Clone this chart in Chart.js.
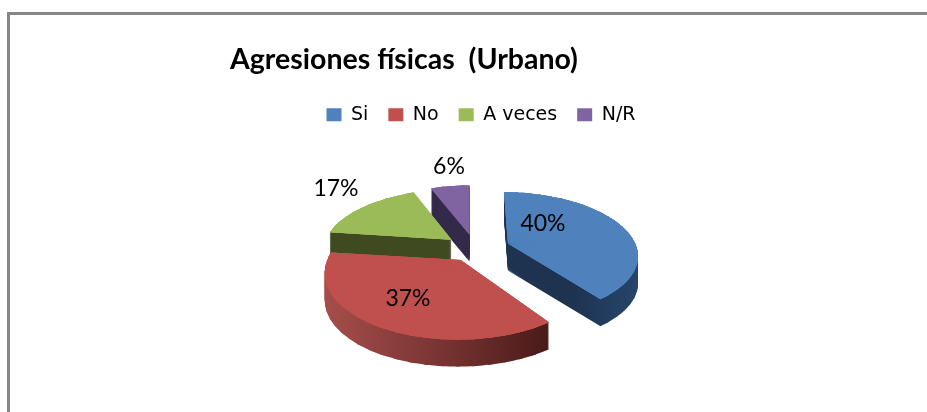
<!DOCTYPE html>
<html>
<head>
<meta charset="utf-8">
<script src="https://cdn.jsdelivr.net/npm/chart.js@4"></script>
<style>
html,body{margin:0;padding:0;background:#fff;overflow:hidden}
#frame{position:absolute;left:7px;top:12px;right:0;bottom:0;border-left:3px solid #868686;border-top:3px solid #868686}
#c{position:absolute;left:0;top:0}
</style>
</head>
<body>
<div id="frame"></div>
<canvas id="c" width="927" height="412"></canvas>
<script>
const categories = ['Si', 'No', 'A veces', 'N/R'];
const values = [40, 37, 17, 6];
const colors = ['#4F81BD', '#C0504D', '#9BBB59', '#8064A2'];
const explode = [0.27, 0.21, 0.234, 0.24];
const chartTitle = 'Agresiones físicas  (Urbano)';

// Side-wall colours (left to right) of each slice.
const sideColors = [
  ['#1d3350', '#1d3350', '#26456a'],
  ['#a54e4b', '#7a3533', '#4a1b19'],
  ['#3f4a21', '#3f4a21', '#3f4a21'],
  ['#332a4a', '#332a4a', '#332a4a']
];
const sideSpan = [[505, 637], [325, 547], [330, 452], [433, 472]];
// Camera: pie plane (u across, v towards viewer) to the page.
const view = { cx: 475, cy: 248.5, rx: 130, ry: 62, persp: 0.17, depth: 27 };
const labelSpots = [[543, 224], [408, 299], [336, 189], [449, 167]];
const drawOrder = [3, 2, 0, 1];
const wedgeStep = Math.PI / 30;
const wedgeOverlap = 0.04;
const topPasses = 3;

function project(u, v) {
  const w = 1 / (1 - view.persp * v);
  return [view.cx + view.rx * u * w, view.cy + view.ry * v * w];
}

// Affine map sending one thin wedge of the library's arc onto its
// perspective projection: apex and both rim points land exactly.
function wedgeTransform(arc, mid, s, e, half) {
  const off = arc.options.offset;
  const R = arc.outerRadius + off / 4; // the element pads its radius by offset/4 when it draws
  const ex = off / 100;
  const ox = arc.x + Math.cos(half) * off / 4, oy = arc.y + Math.sin(half) * off / 4;
  const hs = half - (e - s) / 2, he = half + (e - s) / 2;
  const bu = Math.cos(mid) * ex, bv = Math.sin(mid) * ex;
  const c0 = project(bu, bv);
  const c1 = project(bu + Math.cos(hs), bv + Math.sin(hs));
  const c2 = project(bu + Math.cos(he), bv + Math.sin(he));
  const e1x = R * Math.cos(hs), e1y = R * Math.sin(hs);
  const e2x = R * Math.cos(he), e2y = R * Math.sin(he);
  const det = e1x * e2y - e2x * e1y;
  const f1x = c1[0] - c0[0], f1y = c1[1] - c0[1], f2x = c2[0] - c0[0], f2y = c2[1] - c0[1];
  const a = (f1x * e2y - f2x * e1y) / det;
  const c = (f2x * e1x - f1x * e2x) / det;
  const b = (f1y * e2y - f2y * e1y) / det;
  const d = (f2y * e1x - f1y * e2x) / det;
  return { a, b, c, d, e: c0[0] - a * ox - c * oy, f: c0[1] - b * ox - d * oy };
}

function drawSlice(arc, target, dy) {
  const s0 = arc.startAngle, e0 = arc.endAngle, c0 = arc.circumference;
  const mid = (s0 + e0) / 2;
  const n = Math.max(1, Math.ceil((e0 - s0) / wedgeStep));
  for (let j = 0; j < n; j++) {
    const s = s0 + (e0 - s0) * j / n;
    const e = Math.min(e0, s0 + (e0 - s0) * (j + 1) / n + wedgeOverlap);
    const m = wedgeTransform(arc, mid, s, e, (s + e) / 2);
    target.setTransform(m.a, m.b, m.c, m.d, m.e, m.f + dy);
    arc.startAngle = s;
    arc.endAngle = e;
    arc.circumference = e - s;
    arc.draw(target);
  }
  arc.startAngle = s0; arc.endAngle = e0; arc.circumference = c0;
  target.setTransform(1, 0, 0, 1, 0, 0);
}

const pie3d = {
  id: 'pie3d',
  beforeDatasetDraw(chart) {
    const ctx = chart.ctx;
    const arcs = chart.getDatasetMeta(0).data;
    drawOrder.forEach(i => {
      const arc = arcs[i];
      const off = document.createElement('canvas');
      off.width = chart.width; off.height = chart.height;
      const o = off.getContext('2d');
      for (let d = view.depth; d >= 1; d--) drawSlice(arc, o, d);
      o.globalCompositeOperation = 'source-in';
      const g = o.createLinearGradient(sideSpan[i][0], 0, sideSpan[i][1], 0);
      sideColors[i].forEach((col, k) => g.addColorStop(k / (sideColors[i].length - 1), col));
      o.fillStyle = g;
      o.fillRect(0, 0, off.width, off.height);
      ctx.drawImage(off, 0, 0);
      ctx.save();
      for (let p = 0; p < topPasses; p++) drawSlice(arc, ctx, 0);
      ctx.restore();
    });
    return false;
  },
  afterDatasetsDraw(chart) {
    const ctx = chart.ctx;
    ctx.save();
    ctx.font = '23px Lato';
    ctx.fillStyle = '#000';
    ctx.textAlign = 'center';
    ctx.textBaseline = 'middle';
    values.forEach((v, i) => ctx.fillText(v + '%', labelSpots[i][0], labelSpots[i][1]));
    ctx.restore();
  }
};

new Chart(document.getElementById('c'), {
  type: 'pie',
  data: {
    labels: categories,
    datasets: [{
      data: values,
      backgroundColor: colors,
      borderWidth: 0,
      offset: explode.map(e => e * 100)
    }]
  },
  options: {
    responsive: false,
    animation: false,
    layout: { padding: { left: 230, right: 195, top: 0, bottom: 10 } },
    plugins: {
      tooltip: { enabled: false },
      title: {
        display: true,
        text: chartTitle,
        align: 'start',
        color: '#000',
        font: { family: 'Lato', size: 28.5, weight: 'bold' },
        padding: { top: 43, bottom: 8 }
      },
      legend: {
        position: 'top',
        labels: {
          boxWidth: 15,
          boxHeight: 13,
          padding: 20,
          color: '#000',
          font: { family: 'DejaVu Sans', size: 19 }
        }
      }
    }
  },
  plugins: [pie3d]
});
</script>
</body>
</html>
